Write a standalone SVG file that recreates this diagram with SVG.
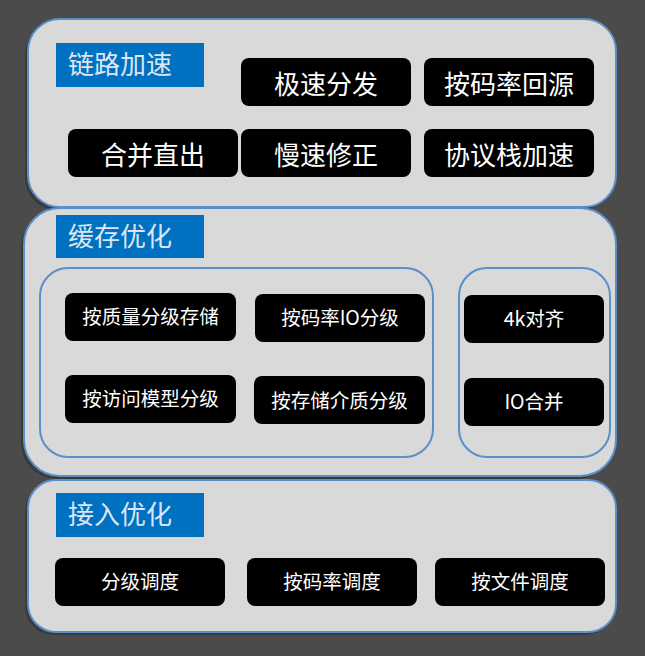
<svg xmlns="http://www.w3.org/2000/svg" width="645" height="656" viewBox="0 0 645 656">
<style>
.bg{fill:#4b4b4b}
.panel{fill:#d9d9d9;stroke:#5b8fca;stroke-width:2}
.shadow{fill:#2f2f2f;opacity:0.6}
.inner{fill:none;stroke:#5b8fca;stroke-width:2}
.tag{fill:#0070c0}
.tagt{font-family:"Noto Sans CJK SC","Noto Sans",sans-serif;font-size:26px;fill:#dce6f2}
.box{fill:#000}
.bt{font-family:"Noto Sans CJK SC","Noto Sans",sans-serif;fill:#ffffff;text-anchor:middle;dominant-baseline:central}
.big{font-size:26px}
.small{font-size:19.5px}
</style>
<rect class="bg" x="0" y="0" width="645" height="656"/>

<g id="panel-link">
<rect class="shadow" x="25" y="22" width="588" height="188" rx="32"/>
<rect class="panel" x="28" y="19" width="588" height="188" rx="32"/>
<rect class="tag" x="56" y="43" width="148" height="44"/>
<text class="tagt" x="68" y="74">链路加速</text>
</g>
<g id="n-jisu"><rect class="box" x="241" y="58" width="170" height="48" rx="8"/><text class="bt big" x="326" y="82">极速分发</text></g>
<g id="n-hlhy"><rect class="box" x="424" y="58" width="170" height="48" rx="8"/><text class="bt big" x="509" y="82">按码率回源</text></g>
<g id="n-hbzc"><rect class="box" x="68" y="129" width="170" height="48" rx="8"/><text class="bt big" x="153" y="153">合并直出</text></g>
<g id="n-msxz"><rect class="box" x="241" y="129" width="170" height="48" rx="8"/><text class="bt big" x="326" y="153">慢速修正</text></g>
<g id="n-xyz"><rect class="box" x="424" y="129" width="170" height="48" rx="8"/><text class="bt big" x="509" y="153">协议栈加速</text></g>

<g id="panel-cache">
<rect class="shadow" x="21" y="211" width="592" height="268" rx="36"/>
<rect class="panel" x="24" y="208" width="592" height="268" rx="36"/>
<rect class="tag" x="56" y="215" width="148" height="43"/>
<text class="tagt" x="68" y="246">缓存优化</text>
<rect class="inner" x="40" y="268" width="393" height="189" rx="28"/>
<rect class="inner" x="459" y="268" width="151" height="189" rx="28"/>
</g>
<g id="n-zlfj"><rect class="box" x="65" y="293" width="171" height="48" rx="8"/><text class="bt small" x="150.5" y="315">按质量分级存储</text></g>
<g id="n-mlio"><rect class="box" x="255" y="294" width="170" height="48" rx="8"/><text class="bt small" x="340" y="316">按码率IO分级</text></g>
<g id="n-fwmx"><rect class="box" x="65" y="375" width="171" height="48" rx="8"/><text class="bt small" x="150.5" y="397">按访问模型分级</text></g>
<g id="n-ccjz"><rect class="box" x="254" y="376" width="171" height="48" rx="8"/><text class="bt small" x="339.5" y="399">按存储介质分级</text></g>
<g id="n-4k"><rect class="box" x="464" y="295" width="140" height="48" rx="8"/><text class="bt small" x="534" y="317">4k对齐</text></g>
<g id="n-iohb"><rect class="box" x="464" y="378" width="140" height="48" rx="8"/><text class="bt small" x="534" y="400">IO合并</text></g>

<g id="panel-access">
<rect class="shadow" x="25" y="483" width="588" height="152" rx="28"/>
<rect class="panel" x="28" y="480" width="588" height="152" rx="28"/>
<rect class="tag" x="56" y="493" width="148" height="44"/>
<text class="tagt" x="68" y="524">接入优化</text>
</g>
<g id="n-fjdd"><rect class="box" x="55" y="558" width="170" height="48" rx="8"/><text class="bt small" x="140" y="580">分级调度</text></g>
<g id="n-mldd"><rect class="box" x="247" y="558" width="170" height="48" rx="8"/><text class="bt small" x="332" y="580">按码率调度</text></g>
<g id="n-wjdd"><rect class="box" x="435" y="558" width="170" height="48" rx="8"/><text class="bt small" x="520" y="580">按文件调度</text></g>

<g id="connectors"></g>
</svg>
